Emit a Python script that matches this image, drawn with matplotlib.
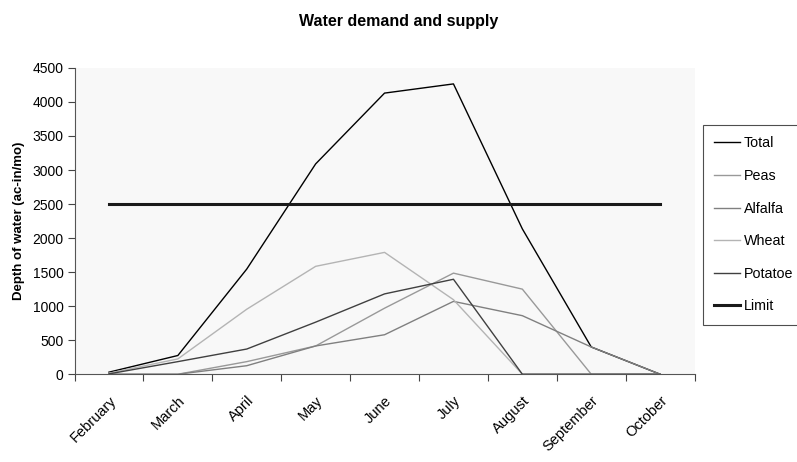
import numpy as np
import matplotlib.pyplot as plt

plt.rcParams['font.family'] = ['Liberation Sans', 'DejaVu Sans']

months = ["February", "March", "April", "May", "June", "July",
          "August", "September", "October"]
total = [30, 275, 1545, 3090, 4130, 4265, 2135, 400, 0]
peas = [0, 0, 185, 415, 970, 1485, 1250, 0, 0]
alfalfa = [0, 0, 125, 415, 580, 1070, 860, 400, 0]
wheat = [15, 225, 955, 1585, 1790, 1095, 0, 0, 0]
potatoe = [5, 185, 370, 765, 1180, 1395, 0, 0, 0]
limit = [2500] * 9

fig = plt.figure(figsize=(7.97, 4.62), dpi=100)
ax = fig.add_axes([0.0935, 0.19, 0.778, 0.663])
ax.set_facecolor('#f8f8f8')

x = np.arange(len(months))
ax.plot(x, total, color='black', lw=1.0, label='Total')
ax.plot(x, peas, color='#999999', lw=1.0, label='Peas')
ax.plot(x, alfalfa, color='#808080', lw=1.0, label='Alfalfa')
ax.plot(x, wheat, color='#b4b4b4', lw=1.0, label='Wheat')
ax.plot(x, potatoe, color='#404040', lw=1.0, label='Potatoe')
ax.plot(x, limit, color='#1a1a1a', lw=2.2, label='Limit')

ax.set_xlim(-0.5, len(months) - 0.5)
ax.set_ylim(0, 4500)
ax.set_yticks(np.arange(0, 4501, 500))
ax.tick_params(axis='y', labelsize=10, length=5, pad=3, direction='out', color='#444444')

# ticks between categories, labels at the categories
ax.set_xticks(np.append(x - 0.5, len(months) - 0.5))
ax.set_xticklabels([''] * (len(months) + 1))
ax.set_xticks(x, minor=True)
ax.set_xticklabels(months, minor=True, rotation=45, ha='right',
                   rotation_mode='anchor', fontsize=10.5)
ax.tick_params(axis='x', which='major', length=5, color='#444444')
ax.tick_params(axis='x', which='minor', length=0, pad=14)

for s in ['top', 'right']:
    ax.spines[s].set_visible(False)
for s in ['left', 'bottom']:
    ax.spines[s].set_color('#555555')

ax.set_ylabel('Depth of water (ac-in/mo)', fontsize=9.5, fontweight='bold', labelpad=5)
fig.suptitle('Water demand and supply', fontsize=11.5, fontweight='bold', y=0.97)

leg = ax.legend(loc='upper left', bbox_to_anchor=(703 / 797, 1 - 125 / 462),
                bbox_transform=fig.transFigure, frameon=True, fancybox=False,
                borderaxespad=0, fontsize=10.3, handlelength=1.8, handletextpad=0.25,
                labelspacing=1.3, borderpad=0.8)
leg.get_frame().set_edgecolor('#222222')
leg.get_frame().set_linewidth(0.8)

fig.savefig('out.png', dpi=100)
